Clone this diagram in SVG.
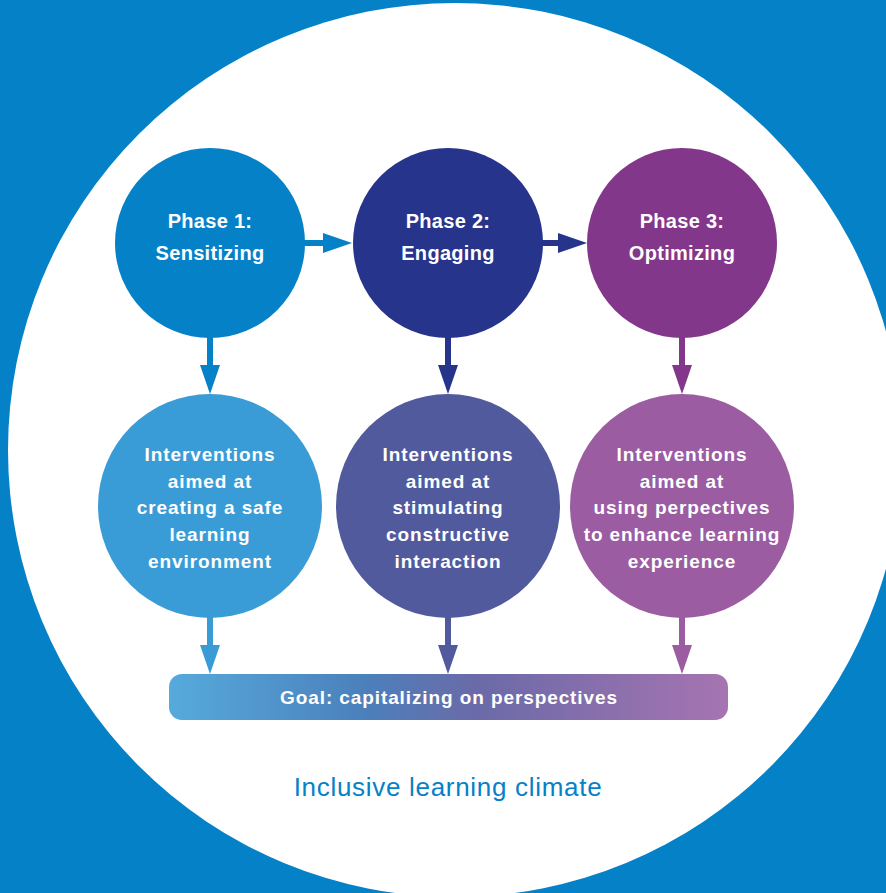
<svg xmlns="http://www.w3.org/2000/svg" width="886" height="893" viewBox="0 0 886 893">
  <style>
    .ph { font-family: "Liberation Sans", Arial, sans-serif; font-weight: bold; font-size: 20px; letter-spacing: 0.3px; fill: #ffffff; text-anchor: middle; }
    .iv { font-family: "Liberation Sans", Arial, sans-serif; font-weight: bold; font-size: 19px; letter-spacing: 0.9px; fill: #ffffff; text-anchor: middle; }
    .goal { font-family: "Liberation Sans", Arial, sans-serif; font-weight: bold; font-size: 19px; letter-spacing: 0.9px; fill: #ffffff; text-anchor: middle; }
    .climate { font-family: "Liberation Sans", Arial, sans-serif; font-size: 26px; letter-spacing: 0.7px; fill: #0581c8; text-anchor: middle; }
    .conn line { stroke-width: 6; fill: none; }
  </style>
  <defs>
    <marker id="m-blue" viewBox="0 0 29 20" markerWidth="29" markerHeight="20" markerUnits="userSpaceOnUse" refX="1" refY="10" orient="auto"><path d="M0,0 L29,10 L0,20 Z" fill="#0581c8"/></marker>
    <marker id="m-navy" viewBox="0 0 29 20" markerWidth="29" markerHeight="20" markerUnits="userSpaceOnUse" refX="1" refY="10" orient="auto"><path d="M0,0 L29,10 L0,20 Z" fill="#27348b"/></marker>
    <marker id="m-purple" viewBox="0 0 29 20" markerWidth="29" markerHeight="20" markerUnits="userSpaceOnUse" refX="1" refY="10" orient="auto"><path d="M0,0 L29,10 L0,20 Z" fill="#82378a"/></marker>
    <marker id="m-lblue" viewBox="0 0 29 20" markerWidth="29" markerHeight="20" markerUnits="userSpaceOnUse" refX="1" refY="10" orient="auto"><path d="M0,0 L29,10 L0,20 Z" fill="#3a9cd6"/></marker>
    <marker id="m-slate" viewBox="0 0 29 20" markerWidth="29" markerHeight="20" markerUnits="userSpaceOnUse" refX="1" refY="10" orient="auto"><path d="M0,0 L29,10 L0,20 Z" fill="#525a9e"/></marker>
    <marker id="m-mauve" viewBox="0 0 29 20" markerWidth="29" markerHeight="20" markerUnits="userSpaceOnUse" refX="1" refY="10" orient="auto"><path d="M0,0 L29,10 L0,20 Z" fill="#9b5ca2"/></marker>
    <linearGradient id="goalGrad" x1="0" y1="0" x2="1" y2="0">
      <stop offset="0" stop-color="#56aadc"/>
      <stop offset="0.35" stop-color="#4b80bb"/>
      <stop offset="0.55" stop-color="#6b6aa8"/>
      <stop offset="1" stop-color="#a674b1"/>
    </linearGradient>
  </defs>

  <rect x="0" y="0" width="886" height="893" fill="#0581c8"/>
  <circle cx="455" cy="450" r="447" fill="#ffffff"/>

  <g id="phase1">
    <circle cx="210" cy="243" r="95" fill="#0581c8"/>
    <text class="ph" x="210" y="228">Phase 1:</text>
    <text class="ph" x="210" y="260">Sensitizing</text>
  </g>
  <g id="phase2">
    <circle cx="448" cy="243" r="95" fill="#27348b"/>
    <text class="ph" x="448" y="228">Phase 2:</text>
    <text class="ph" x="448" y="260">Engaging</text>
  </g>
  <g id="phase3">
    <circle cx="682" cy="243" r="95" fill="#82378a"/>
    <text class="ph" x="682" y="228">Phase 3:</text>
    <text class="ph" x="682" y="260">Optimizing</text>
  </g>

  <g id="interventions1">
    <circle cx="210" cy="506" r="112" fill="#3a9cd6"/>
    <text class="iv" x="210" y="461">Interventions</text>
    <text class="iv" x="210" y="488">aimed at</text>
    <text class="iv" x="210" y="514">creating a safe</text>
    <text class="iv" x="210" y="541">learning</text>
    <text class="iv" x="210" y="568">environment</text>
  </g>
  <g id="interventions2">
    <circle cx="448" cy="506" r="112" fill="#525a9e"/>
    <text class="iv" x="448" y="461">Interventions</text>
    <text class="iv" x="448" y="488">aimed at</text>
    <text class="iv" x="448" y="514">stimulating</text>
    <text class="iv" x="448" y="541">constructive</text>
    <text class="iv" x="448" y="568">interaction</text>
  </g>
  <g id="interventions3">
    <circle cx="682" cy="506" r="112" fill="#9b5ca2"/>
    <text class="iv" x="682" y="461">Interventions</text>
    <text class="iv" x="682" y="488">aimed at</text>
    <text class="iv" x="682" y="514">using perpectives</text>
    <text class="iv" x="682" y="541">to enhance learning</text>
    <text class="iv" x="682" y="568">experience</text>
  </g>

  <g id="goal">
    <rect x="169" y="674" width="559" height="46" rx="13" ry="13" fill="url(#goalGrad)"/>
    <text class="goal" x="449" y="704">Goal: capitalizing on perspectives</text>
  </g>

  <g id="climate-label">
    <text class="climate" x="448" y="796">Inclusive learning climate</text>
  </g>

  <g id="connectors" class="conn">
    <line x1="304" y1="243" x2="324" y2="243" stroke="#0581c8" marker-end="url(#m-blue)"/>
    <line x1="542" y1="243" x2="559" y2="243" stroke="#27348b" marker-end="url(#m-navy)"/>
    <line x1="210" y1="337" x2="210" y2="366" stroke="#0581c8" marker-end="url(#m-blue)"/>
    <line x1="448" y1="337" x2="448" y2="366" stroke="#27348b" marker-end="url(#m-navy)"/>
    <line x1="682" y1="337" x2="682" y2="366" stroke="#82378a" marker-end="url(#m-purple)"/>
    <line x1="210" y1="617" x2="210" y2="646" stroke="#3a9cd6" marker-end="url(#m-lblue)"/>
    <line x1="448" y1="617" x2="448" y2="646" stroke="#525a9e" marker-end="url(#m-slate)"/>
    <line x1="682" y1="617" x2="682" y2="646" stroke="#9b5ca2" marker-end="url(#m-mauve)"/>
  </g>
</svg>
